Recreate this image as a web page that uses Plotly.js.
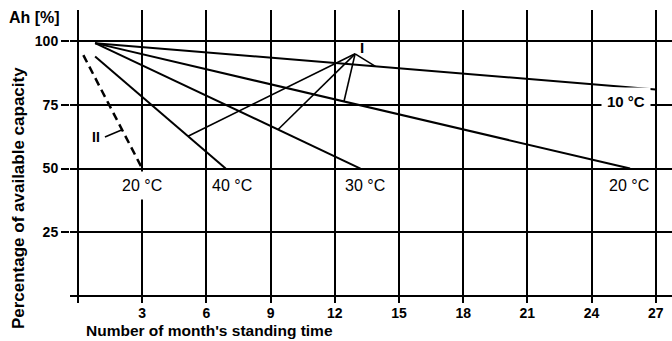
<!DOCTYPE html>
<html><head><meta charset="utf-8">
<script src="https://cdn.plot.ly/plotly-3.0.1.min.js"></script>
<style>html,body{margin:0;padding:0;background:#fff;}#chart{width:672px;height:341px;}</style>
</head><body><div id="chart"></div>
<script>
// Axis ticks
const monthTicks = [3, 6, 9, 12, 15, 18, 21, 24, 27];
const pctTicks = [25, 50, 75, 100];

// Self-discharge lines (months, % capacity)
const line10C_x = [0.8, 27];
const line10C_y = [99.2, 81];
const line20C_x = [0.8, 25.8];
const line20C_y = [99.2, 50];
const line30C_x = [0.8, 13.2];
const line30C_y = [99.2, 50];
const line40C_x = [0.8, 6.9];
const line40C_y = [94, 50];
// Curve II (dashed, 20 °C)
const curveII_x = [0.25, 3.0];
const curveII_y = [94.5, 50];

// Leader lines for label "I" (apex -> point on each curve)
const leaderI_apex = [12.95, 95];
const leaderI_x = [5.14, 9.35, 12.43, 13.9];
const leaderI_y = [62.7, 65.3, 76.3, 90.1];
// Leader line for label "II"
const leaderII_x = [1.26, 2.06];
const leaderII_y = [62.4, 65.2];

// Curve labels
const labelText = ["20 °C", "40 °C", "30 °C", "20 °C", "10 °C", "I", "II"];
const labelX = [3.0, 7.2, 13.4, 25.77, 25.6, 13.27, 0.84];
const labelY = [43.5, 43.5, 43.5, 43.5, 76.2, 97.6, 62.4];

const FONT = "Liberation Sans, Arial, Helvetica, sans-serif";

const solid = {color: "black", width: 2};
const traces = [
  {x: line10C_x, y: line10C_y, mode: "lines", line: solid},
  {x: line20C_x, y: line20C_y, mode: "lines", line: solid},
  {x: line30C_x, y: line30C_y, mode: "lines", line: solid},
  {x: line40C_x, y: line40C_y, mode: "lines", line: solid},
  {x: curveII_x, y: curveII_y, mode: "lines", line: {color: "black", width: 2.5, dash: "8px,5px"}},
];
const lx = [], ly = [];
leaderI_x.forEach((v, i) => { lx.push(leaderI_apex[0], v, null); ly.push(leaderI_apex[1], leaderI_y[i], null); });
traces.push({x: lx, y: ly, mode: "lines", line: {color: "black", width: 1.6}});
traces.push({x: leaderII_x, y: leaderII_y, mode: "lines", line: {color: "black", width: 1.6}});

const labelStyle = [
  {bg: "white", bold: false, size: 16},
  {bg: null, bold: false, size: 16},
  {bg: null, bold: false, size: 16},
  {bg: null, bold: false, size: 16},
  {bg: "white", bold: true, size: 15},
  {bg: null, bold: true, size: 15},
  {bg: null, bold: true, size: 14},
];
const annotations = labelText.map((t, i) => ({
  x: labelX[i], y: labelY[i], xref: "x", yref: "y", text: t, showarrow: false,
  xanchor: "center", yanchor: "middle",
  bgcolor: labelStyle[i].bg || "rgba(0,0,0,0)", borderpad: labelStyle[i].bg ? 5 : 1,
  font: {family: FONT, size: labelStyle[i].size, color: "black", weight: labelStyle[i].bold ? "bold" : "normal"}
}));
annotations.push({xref: "paper", yref: "paper", x: -0.059, y: 0.976, text: "Ah [%]", showarrow: false,
  xanchor: "center", yanchor: "middle", font: {family: FONT, size: 16, color: "black", weight: "bold"}});
annotations.push({xref: "paper", yref: "paper", x: -0.0864, y: 0.358, text: "Percentage of available capacity", showarrow: false,
  textangle: -90, xanchor: "center", yanchor: "middle", font: {family: FONT, size: 17, color: "black", weight: "bold"}});
annotations.push({xref: "paper", yref: "paper", x: 0.2317, y: -0.0922, text: "Number of month's standing time", showarrow: false,
  xanchor: "center", yanchor: "middle", borderpad: 0, font: {family: FONT, size: 15.5, color: "black", weight: "bold"}});

const layout = {
  width: 672, height: 341,
  margin: {l: 70, r: 0, t: 10, b: 38},
  paper_bgcolor: "white", plot_bgcolor: "white",
  showlegend: false,
  font: {family: FONT, color: "black"},
  xaxis: {
    range: [-0.374, 27.76], tickvals: monthTicks, ticktext: monthTicks.map(String),
    showgrid: true, gridcolor: "black", gridwidth: 2,
    zeroline: true, zerolinecolor: "black", zerolinewidth: 2.5,
    showline: false, ticks: "", tickfont: {family: FONT, size: 14, color: "black", weight: "bold"},
    fixedrange: true
  },
  yaxis: {
    range: [-2.75, 112.2], tickvals: pctTicks, ticktext: pctTicks.map(String),
    showgrid: true, gridcolor: "black", gridwidth: 2,
    zeroline: true, zerolinecolor: "black", zerolinewidth: 2.5,
    showline: false, ticks: "outside", ticklen: 8, tickwidth: 2, tickcolor: "black",
    tickfont: {family: FONT, size: 14, color: "black", weight: "bold"},
    fixedrange: true
  },
  annotations: annotations
};
Plotly.newPlot("chart", traces, layout, {displayModeBar: false, staticPlot: true});
</script>
</body></html>
